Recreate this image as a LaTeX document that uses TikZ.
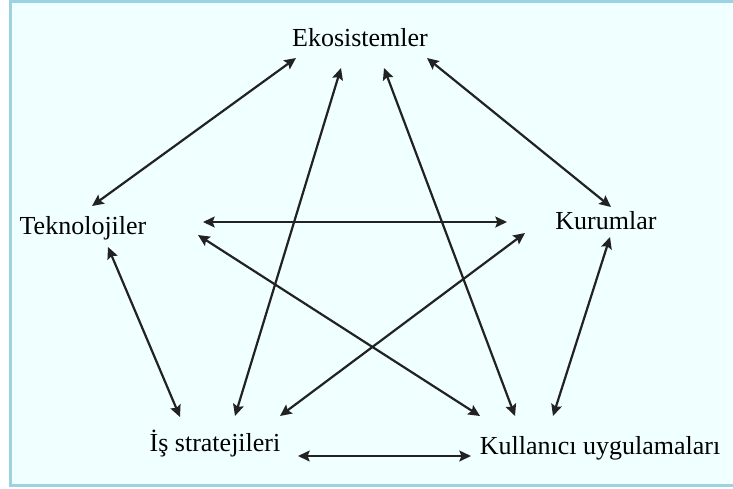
\documentclass[tikz,border=0pt]{standalone}
\usepackage{fontspec}
\setmainfont{Liberation Serif}
\usetikzlibrary{arrows.meta,calc}
\definecolor{framebg}{HTML}{F0FFFF}
\definecolor{frameline}{HTML}{9DD3E0}
\definecolor{arrowcol}{HTML}{222222}

\begin{document}
\begin{tikzpicture}[x=0.5pt,y=-0.5pt]
\tikzstyle{every node}+=[inner sep=0pt]
\tikzstyle{lbl}=[anchor=base,font=\fontsize{13}{15}\selectfont]
\tikzstyle{link}=[arrowcol,line width=1.1pt,{Stealth[length=5.8pt,width=5.4pt,inset=1pt]}-{Stealth[length=5.8pt,width=5.4pt,inset=1pt]}]
\useasboundingbox (0,0) rectangle (733,488);
\begin{scope}
\clip (0,0) rectangle (733,488);
\draw [frameline,fill=framebg,line width=1.25pt] (10.5,1.3) rectangle (760,485.5);
\end{scope}
% labels
\node [lbl] (eko) at (360,46) {Ekosistemler};
\node [lbl] (tek) at (83,234) {Teknolojiler};
\node [lbl] (kur) at (606,229) {Kurumlar};
\node [lbl] (is) at (215,451) {İş stratejileri};
\node [lbl] (kul) at (600,454) {Kullanıcı uygulamaları};
% links
\draw [link] ($(eko.base)+(-64,12)$) -- ($(tek.base)+(9,-28)$);
\draw [link] ($(eko.base)+(-19,22)$) -- ($(is.base)+(20,-35)$);
\draw [link] ($(eko.base)+(24,22)$) -- ($(kul.base)+(-85,-38)$);
\draw [link] ($(eko.base)+(67,12)$) -- ($(kur.base)+(5,-22)$);
\draw [link] ($(tek.base)+(120,-12)$) -- ($(kur.base)+(-99,-7)$);
\draw [link] ($(tek.base)+(115,1)$) -- ($(kul.base)+(-120,-38)$);
\draw [link] ($(tek.base)+(25,13)$) -- ($(is.base)+(-35,-34)$);
\draw [link] ($(kur.base)+(-81,4)$) -- ($(is.base)+(65,-35)$);
\draw [link] ($(kur.base)+(4,8)$) -- ($(kul.base)+(-47,-38)$);
\draw [link] ($(is.base)+(83,5)$) -- ($(kul.base)+(-129,2)$);
\end{tikzpicture}
\end{document}
